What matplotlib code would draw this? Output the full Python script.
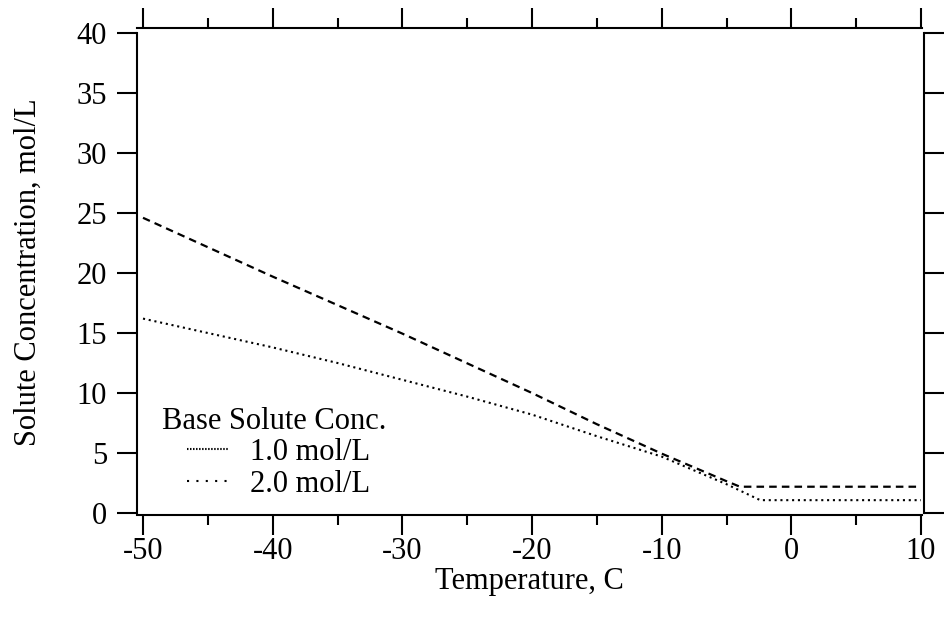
import matplotlib
matplotlib.use("Agg")
import matplotlib.pyplot as plt
from matplotlib.lines import Line2D

# ---- data ----
temp_1 = [-50, -45, -40, -35, -30, -25, -20, -15, -10, -5, -2.4, 10]
conc_1 = [16.2, 15.0, 13.8, 12.5, 11.1, 9.7, 8.2, 6.4, 4.7, 2.4, 1.07, 1.07]
temp_2 = [-50, -40, -30, -20, -15, -10, -5, -3.96, 10]
conc_2 = [24.6, 19.7, 14.95, 10.0, 7.4, 4.95, 2.65, 2.19, 2.19]
legend_title = "Base Solute Conc."
legend_labels = ["1.0 mol/L", "2.0 mol/L"]
x_major = [-50, -40, -30, -20, -10, 0, 10]
x_minor = [-45, -35, -25, -15, -5, 5]
y_major = [0, 5, 10, 15, 20, 25, 30, 35, 40]

plt.rcParams['font.family'] = ['Liberation Serif', 'DejaVu Serif']
plt.rcParams['axes.unicode_minus'] = False
FS = 22

W, H = 948, 625
fig = plt.figure(figsize=(W / 100, H / 100), dpi=100)
ax = fig.add_axes([137 / W, (H - 513) / H, 785 / W, 480 / H])

ax.plot(temp_2, conc_2, color='black', lw=1.6, linestyle=(0, (3.4, 2.3)),
        dash_capstyle='butt')
ax.plot(temp_1, conc_1, color='black', lw=1.5, linestyle=(0, (1, 1.8)),
        dash_capstyle='butt')

ax.set_xlim(-50.463, 10.077)
ax.set_ylim(0, 40)

ax.set_xticks(x_major)
ax.set_xticks(x_minor, minor=True)
ax.set_yticks(y_major)

for side in ['left', 'right', 'top', 'bottom']:
    ax.spines[side].set_linewidth(1.5)
ax.spines['bottom'].set_position(('outward', 1.5))
ax.spines['top'].set_position(('outward', 3.6))
ax.spines['right'].set_position(('outward', 1.5))

ax.tick_params(axis='both', which='both', direction='out', width=1.5,
               top=True, right=True, labeltop=False, labelright=False,
               labelsize=FS)
ax.tick_params(axis='both', which='major', length=14.6)
ax.tick_params(axis='x', which='minor', length=7.2)
ax.tick_params(axis='x', which='major', pad=1)
ax.tick_params(axis='y', which='major', pad=7)

ax.set_xlabel("Temperature, C", fontsize=FS)
ax.xaxis.set_label_coords(0.5, -0.142)
ax.xaxis.label.set_va('center')
ax.set_ylabel("Solute Concentration, mol/L", fontsize=FS)
ax.yaxis.set_label_coords(-0.139, 0.502)
ax.yaxis.label.set_va('center')

# legend
ax.text(0.0318, 0.1896, legend_title, transform=ax.transAxes, fontsize=FS,
        ha='left', va='center')
handles = [
    Line2D([], [], color='black', lw=1.5, linestyle=(0, (0.7, 0.75))),
    Line2D([], [], color='black', lw=1.5, linestyle=(0, (1, 3.5))),
]
leg = ax.legend(handles, legend_labels, loc='upper left',
                bbox_to_anchor=((187 - 137) / 785, (513 - 438) / 480),
                frameon=False, fontsize=FS, borderpad=0, borderaxespad=0,
                handlelength=1.34, handletextpad=0.72, labelspacing=0.1)

fig.savefig("out.png", dpi=100)
